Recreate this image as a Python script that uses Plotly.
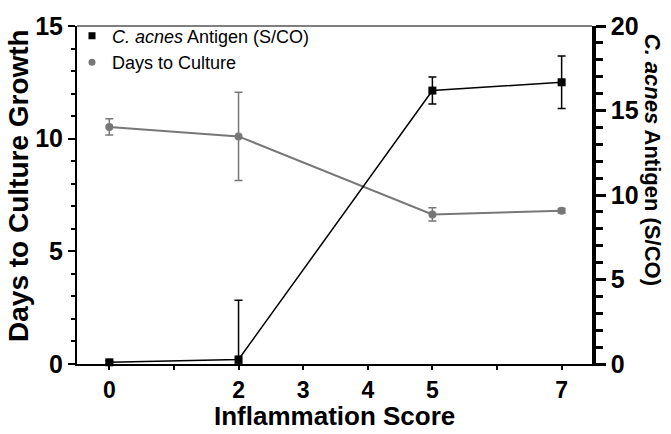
import plotly.graph_objects as go

# ---- data ----
scores = [0, 2, 5, 7]
days_to_culture = [10.52, 10.10, 6.64, 6.80]
days_err = [0.36, 1.96, 0.29, 0.10]
antigen = [0.10, 0.27, 16.18, 16.67]
antigen_err_plus = [0.10, 3.50, 0.80, 1.55]
antigen_err_minus = [0.10, 0.27, 0.80, 1.55]

x_tickvals = [0, 1, 2, 3, 4, 5, 6, 7]
x_ticktext = ["0", "", "2", "3", "4", "5", "", "7"]
left_ticks = [0, 5, 10, 15]
right_ticks = [0, 5, 10, 15, 20]

GRAY = "#777777"
FONT = "Liberation Sans, Arial, sans-serif"

fig = go.Figure()

fig.add_trace(go.Scatter(
    x=scores, y=days_to_culture, mode="lines+markers", name="Days to Culture",
    line=dict(color=GRAY, width=2),
    marker=dict(symbol="circle", size=8, color=GRAY),
    error_y=dict(type="data", array=days_err, color=GRAY, thickness=1.5, width=4),
    showlegend=False, yaxis="y", cliponaxis=False,
))
fig.add_trace(go.Scatter(
    x=scores, y=antigen, mode="lines+markers", name="C. acnes Antigen (S/CO)",
    line=dict(color="black", width=1.5),
    marker=dict(symbol="square", size=8, color="black"),
    error_y=dict(type="data", symmetric=False, array=antigen_err_plus,
                 arrayminus=antigen_err_minus, color="black", thickness=1.5, width=4),
    showlegend=False, yaxis="y2", cliponaxis=False,
))

# legend-only entries (marker symbols like the reference legend)
fig.add_trace(go.Scatter(
    x=[None], y=[None], mode="markers", name="<i>C. acnes</i> Antigen (S/CO)",
    marker=dict(symbol="square", size=7, color="black"), yaxis="y2",
))
fig.add_trace(go.Scatter(
    x=[None], y=[None], mode="markers", name="Days to Culture",
    marker=dict(symbol="circle", size=7, color=GRAY), yaxis="y",
))

fig.update_layout(
    width=671, height=434,
    margin=dict(l=77, r=79, t=20, b=70),
    paper_bgcolor="white", plot_bgcolor="white",
    font=dict(family=FONT, color="black"),
    showlegend=True,
    legend=dict(x=-0.0097, y=1.025, xanchor="left", yanchor="top",
                bgcolor="rgba(0,0,0,0)", font=dict(size=18, family=FONT),
                itemwidth=30, tracegroupgap=0),
    xaxis=dict(
        range=[-0.5, 7.47], tickmode="array", tickvals=x_tickvals, ticktext=x_ticktext,
        showgrid=False, zeroline=False, showline=True, linecolor="black", linewidth=2,
        ticks="outside", ticklen=4, tickwidth=2, tickcolor="black",
        tickfont=dict(size=23, family=FONT, weight="bold"),
    ),
    yaxis=dict(
        range=[0, 15], tickmode="array", tickvals=left_ticks,
        showgrid=False, zeroline=False, showline=True, linecolor="black", linewidth=2,
        ticks="outside", ticklen=7, tickwidth=1.5, tickcolor="black",
        minor=dict(dtick=1, ticks="outside", ticklen=4, tickwidth=1.5, tickcolor="black"),
        tickfont=dict(size=25, family=FONT, weight="bold"),
    ),
    yaxis2=dict(
        range=[0, 20], tickmode="array", tickvals=right_ticks, overlaying="y", side="right",
        showgrid=False, zeroline=False, showline=True, linecolor="black", linewidth=3.5,
        ticks="outside", ticklen=10, tickwidth=3, tickcolor="black",
        minor=dict(dtick=1, ticks="outside", ticklen=7, tickwidth=3, tickcolor="black"),
        tickfont=dict(size=25, family=FONT, weight="bold"),
    ),
    shapes=[dict(type="line", xref="paper", yref="paper", x0=0, x1=1, y0=1, y1=1,
                 line=dict(color="#555555", width=1.5))],
    annotations=[
        dict(text="Days to Culture Growth", xref="paper", yref="paper",
             x=-0.115, y=0.529, xanchor="center", yanchor="middle", textangle=-90,
             showarrow=False, font=dict(size=28, family=FONT, weight="bold")),
        dict(text="<i>C. acnes</i> Antigen (S/CO)", xref="paper", yref="paper",
             x=1.118, y=0.605, xanchor="center", yanchor="middle", textangle=90,
             showarrow=False, font=dict(size=22, family=FONT, weight="bold")),
        dict(text="Inflammation Score", xref="paper", yref="paper",
             x=0.5, y=-0.154, xanchor="center", yanchor="middle",
             showarrow=False, font=dict(size=26, family=FONT, weight="bold")),
    ],
)

fig.write_html("out.html")
